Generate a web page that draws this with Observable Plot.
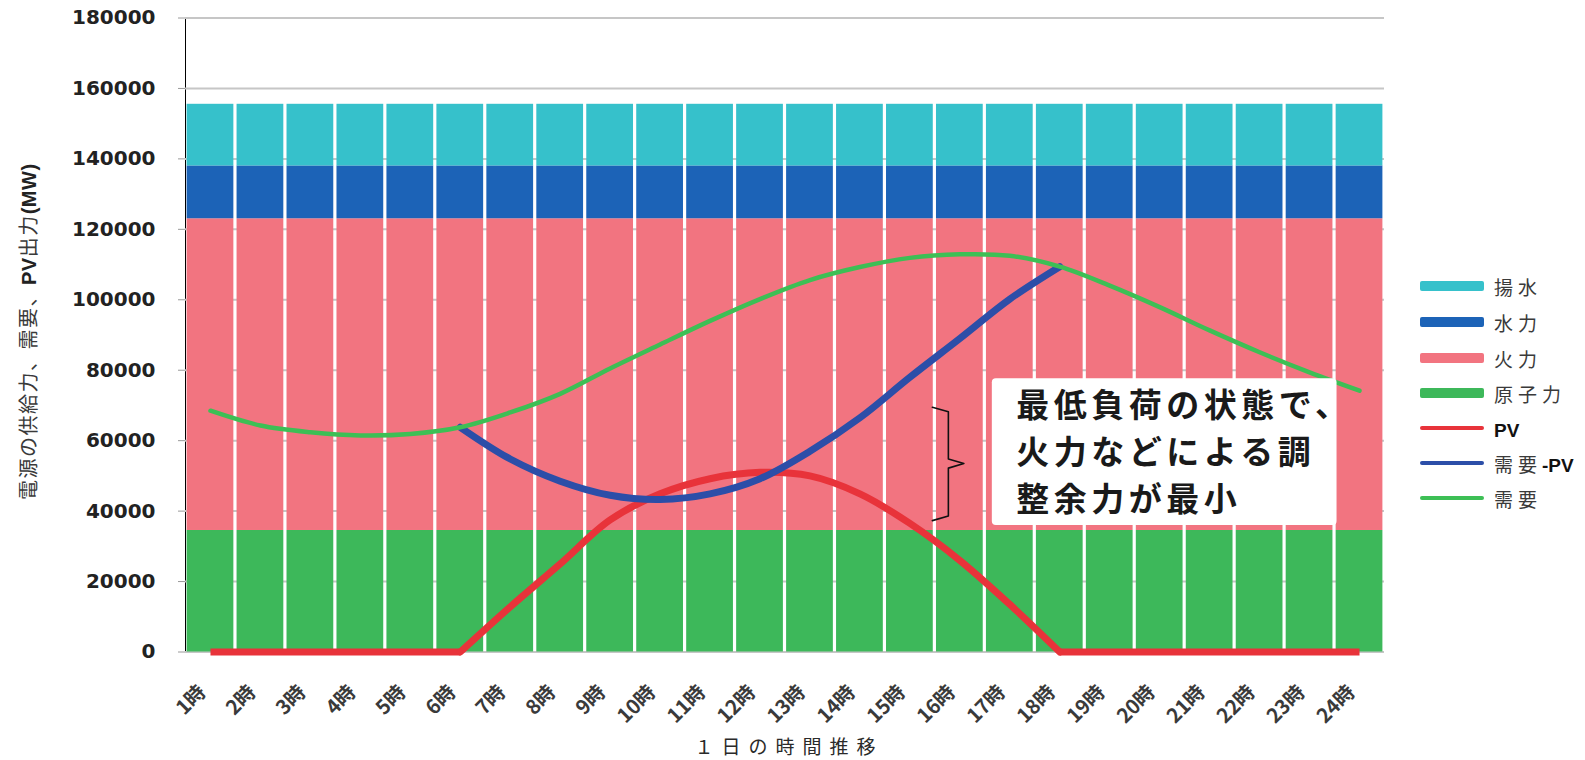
<!DOCTYPE html>
<html>
<head>
<meta charset="utf-8">
<script src="https://cdn.jsdelivr.net/npm/d3@7"></script>
<script src="https://cdn.jsdelivr.net/npm/@observablehq/plot@0.6"></script>
<style>
  html, body { margin: 0; padding: 0; background: #fff; }
  #wrap { position: relative; width: 1585px; height: 760px; overflow: hidden; font-family: "Noto Sans CJK JP", "Noto Sans", sans-serif; }
  #chart svg { display: block; }
  #chart g[aria-label="y-axis"] text,
  #chart g[aria-label="y-axis tick label"] text { font-family: "DejaVu Sans", sans-serif; font-weight: bold; font-size: 20px; fill: #222; }
  #chart g[aria-label="y-axis"] line,
  #chart g[aria-label="y-axis tick"] line,
  #chart g[aria-label="y-axis tick"] path { stroke: #9a9a9a; }
  #ytitle { position: absolute; left: 16px; top: 500px; transform-origin: 0 0; transform: rotate(-90deg); white-space: nowrap; font-size: 20px; line-height: 24px; color: #3a3a3a; letter-spacing: 1.5px; }
  #ytitle b { color: #222; font-family: "Liberation Sans", sans-serif; letter-spacing: 0.5px; }
  #legend { position: absolute; left: 1420px; top: 0; }
  .item { position: absolute; left: 0; width: 170px; height: 24px; display: flex; align-items: center; }
  .sw { width: 64px; margin-right: 10px; border-radius: 2px; flex: none; }
  .lab { font-size: 19px; color: #3a3a3a; letter-spacing: 5px; white-space: nowrap; }
  .lab b { font-family: "Liberation Sans", sans-serif; color: #111; letter-spacing: 0; }
</style>
</head>
<body>
<div id="wrap">
  <div id="chart"></div>
  <div id="ytitle">電源の供給力、需要、<b>PV</b>出力<b>(MW)</b></div>
  <div id="legend"></div>
</div>
<script>
// ---- data ----
const hours = [1,2,3,4,5,6,7,8,9,10,11,12,13,14,15,16,17,18,19,20,21,22,23,24];
const hourLabels = ["1時","2時","3時","4時","5時","6時","7時","8時","9時","10時","11時","12時","13時","14時","15時","16時","17時","18時","19時","20時","21時","22時","23時","24時"];

// stacked supply capacity (MW), bottom to top
const nuclear = [34500,34500,34500,34500,34500,34500,34500,34500,34500,34500,34500,34500,34500,34500,34500,34500,34500,34500,34500,34500,34500,34500,34500,34500];
const thermal = [88500,88500,88500,88500,88500,88500,88500,88500,88500,88500,88500,88500,88500,88500,88500,88500,88500,88500,88500,88500,88500,88500,88500,88500];
const hydro   = [15000,15000,15000,15000,15000,15000,15000,15000,15000,15000,15000,15000,15000,15000,15000,15000,15000,15000,15000,15000,15000,15000,15000,15000];
const pumped  = [17500,17500,17500,17500,17500,17500,17500,17500,17500,17500,17500,17500,17500,17500,17500,17500,17500,17500,17500,17500,17500,17500,17500,17500];

// lines (MW)
const demand = [68500,64300,62400,61500,61900,63800,68000,73300,80500,87300,94000,100200,105600,109300,111900,112900,112500,109400,104000,97900,91300,85100,79400,74200];
const pv     = [0,0,0,0,0,0,12800,25000,37500,44900,49200,51000,50000,44900,36500,26000,13500,0,0,0,0,0,0,0];
const netHours = [6,7,8,9,10,11,12,13,14,15,16,17,18];
const netDemand = [63800,54800,48500,44500,43300,44900,49200,57000,66500,78000,89000,100200,109400];

const yTicks = [0,20000,40000,60000,80000,100000,120000,140000,160000,180000];

const stackNames  = ["原子力","火力","水力","揚水"];
const stackValues = [nuclear, thermal, hydro, pumped];
const stackColors = ["#3db85a","#f27480","#1c63b7","#36c1cb"];

const lineNames  = ["PV","需要-PV","需要"];
const lineColors = ["#e8333a","#2c4ea8","#3dbf55"];

const noteLines = ["最低負荷の状態で、","火力などによる調","整余力が最小"];
const xTitle = "１日の時間推移";

// ---- derived tables ----
const stackRows = [];
hours.forEach((h, i) => {
  let base = 0;
  stackNames.forEach((name, k) => {
    const v = stackValues[k][i];
    stackRows.push({hour: h, series: name, y1: base, y2: base + v});
    base += v;
  });
});
const demandRows = hours.map((h, i) => ({hour: h, v: demand[i]}));
const pvRows = hours.map((h, i) => ({hour: h, v: pv[i]}));
// PV: flat night segments joined with sharp corners to the smooth daytime curve
const pvStart = 6, pvEnd = 18;
const pvDay = pvRows.filter(d => d.hour >= pvStart && d.hour <= pvEnd);
const pvMorning = pvRows.filter(d => d.hour <= pvStart);
const pvEvening = pvRows.filter(d => d.hour >= pvEnd);
const netRows = netHours.map((h, i) => ({hour: h, v: netDemand[i]}));

// annotation placement (data coordinates)
const box = {x1: 16.65, x2: 23.55, y1: 35900, y2: 77600};
const note = {x: 17.13, y: 76200};
const br = {xa: 15.45, xb: 15.77, xc: 16.08, top: 69500, mid: 53500, bot: 37300, k: 1300};
const bracket = [
  {x: br.xa, y: br.top}, {x: br.xb, y: br.top - br.k}, {x: br.xb, y: br.mid + br.k},
  {x: br.xc, y: br.mid}, {x: br.xb, y: br.mid - br.k}, {x: br.xb, y: br.bot + br.k},
  {x: br.xa, y: br.bot}
];

const chart = Plot.plot({
  width: 1585,
  height: 760,
  marginLeft: 185,
  marginRight: 201,
  marginTop: 17.5,
  marginBottom: 108.5,
  style: {background: "#fff", fontFamily: "'Noto Sans CJK JP', sans-serif"},
  x: {type: "linear", domain: [0.5, 24.5], axis: null},
  y: {domain: [0, 180000], ticks: yTicks, tickFormat: d => String(d), tickSize: 7, tickPadding: 23, label: null, line: true},
  color: {domain: stackNames, range: stackColors},
  marks: [
    Plot.ruleY(yTicks, {stroke: "#c6c6c6", strokeWidth: 2}),
    Plot.rect(stackRows, {x1: d => d.hour - 0.5, x2: d => d.hour + 0.5, y1: "y1", y2: "y2", fill: "series", insetLeft: 1.6, insetRight: 1.6}),
    Plot.line(pvMorning, {x: "hour", y: "v", stroke: lineColors[0], strokeWidth: 7, strokeLinecap: "butt"}),
    Plot.line(pvEvening, {x: "hour", y: "v", stroke: lineColors[0], strokeWidth: 7, strokeLinecap: "butt"}),
    Plot.line(pvDay, {x: "hour", y: "v", stroke: lineColors[0], strokeWidth: 7, curve: "catmull-rom"}),
    Plot.line(netRows, {x: "hour", y: "v", stroke: lineColors[1], strokeWidth: 7, curve: "catmull-rom"}),
    Plot.line(demandRows, {x: "hour", y: "v", stroke: lineColors[2], strokeWidth: 4.5, curve: "catmull-rom"}),
    Plot.rect([box], {x1: "x1", x2: "x2", y1: "y1", y2: "y2", fill: "#fff", rx: 4}),
    Plot.text([noteLines.join("\n")], {x: () => note.x, y: () => note.y, text: d => d, textAnchor: "start", lineAnchor: "top", lineHeight: 1.42, fontSize: 33, fontWeight: "bold", fill: "#1a1a1a"}),
    Plot.line(bracket, {x: "x", y: "y", stroke: "#111", strokeWidth: 1.6, curve: "linear"}),
    Plot.text(hours, {x: d => d, text: (d, i) => hourLabels[i], frameAnchor: "bottom", rotate: -45, textAnchor: "end", lineAnchor: "middle", dx: -8, dy: 37, fontSize: 20, fontWeight: "bold", fill: "#3a3a3a"}),
    Plot.text([xTitle], {frameAnchor: "bottom", dx: 4, dy: 102, fontSize: 19, fill: "#2a2a2a"})
  ]
});
document.getElementById("chart").appendChild(chart);

// letter spacing for the annotation and the x-axis title
d3.select(chart).selectAll("text")
  .filter(function() { return this.textContent === xTitle; })
  .style("letter-spacing", "8px");
d3.select(chart).selectAll("text")
  .filter(function() { return this.textContent.startsWith(noteLines[0]); })
  .style("letter-spacing", "4.5px");

// legend
const legendItems = [
  {label: "揚水", color: stackColors[3], h: 10},
  {label: "水力", color: stackColors[2], h: 10},
  {label: "火力", color: stackColors[1], h: 10},
  {label: "原子力", color: stackColors[0], h: 10},
  {label: "<b>PV</b>", color: lineColors[0], h: 4},
  {label: "需要<b>-PV</b>", color: lineColors[1], h: 4},
  {label: "需要", color: lineColors[2], h: 4}
];
const legendTops = [286, 322, 358, 393, 428, 463, 498];
const lg = document.getElementById("legend");
legendItems.forEach((it, i) => {
  const d = document.createElement("div");
  d.className = "item";
  d.style.top = (legendTops[i] - 12) + "px";
  d.innerHTML = `<span class="sw" style="height:${it.h}px;background:${it.color}"></span><span class="lab">${it.label}</span>`;
  lg.appendChild(d);
});
</script>
</body>
</html>
